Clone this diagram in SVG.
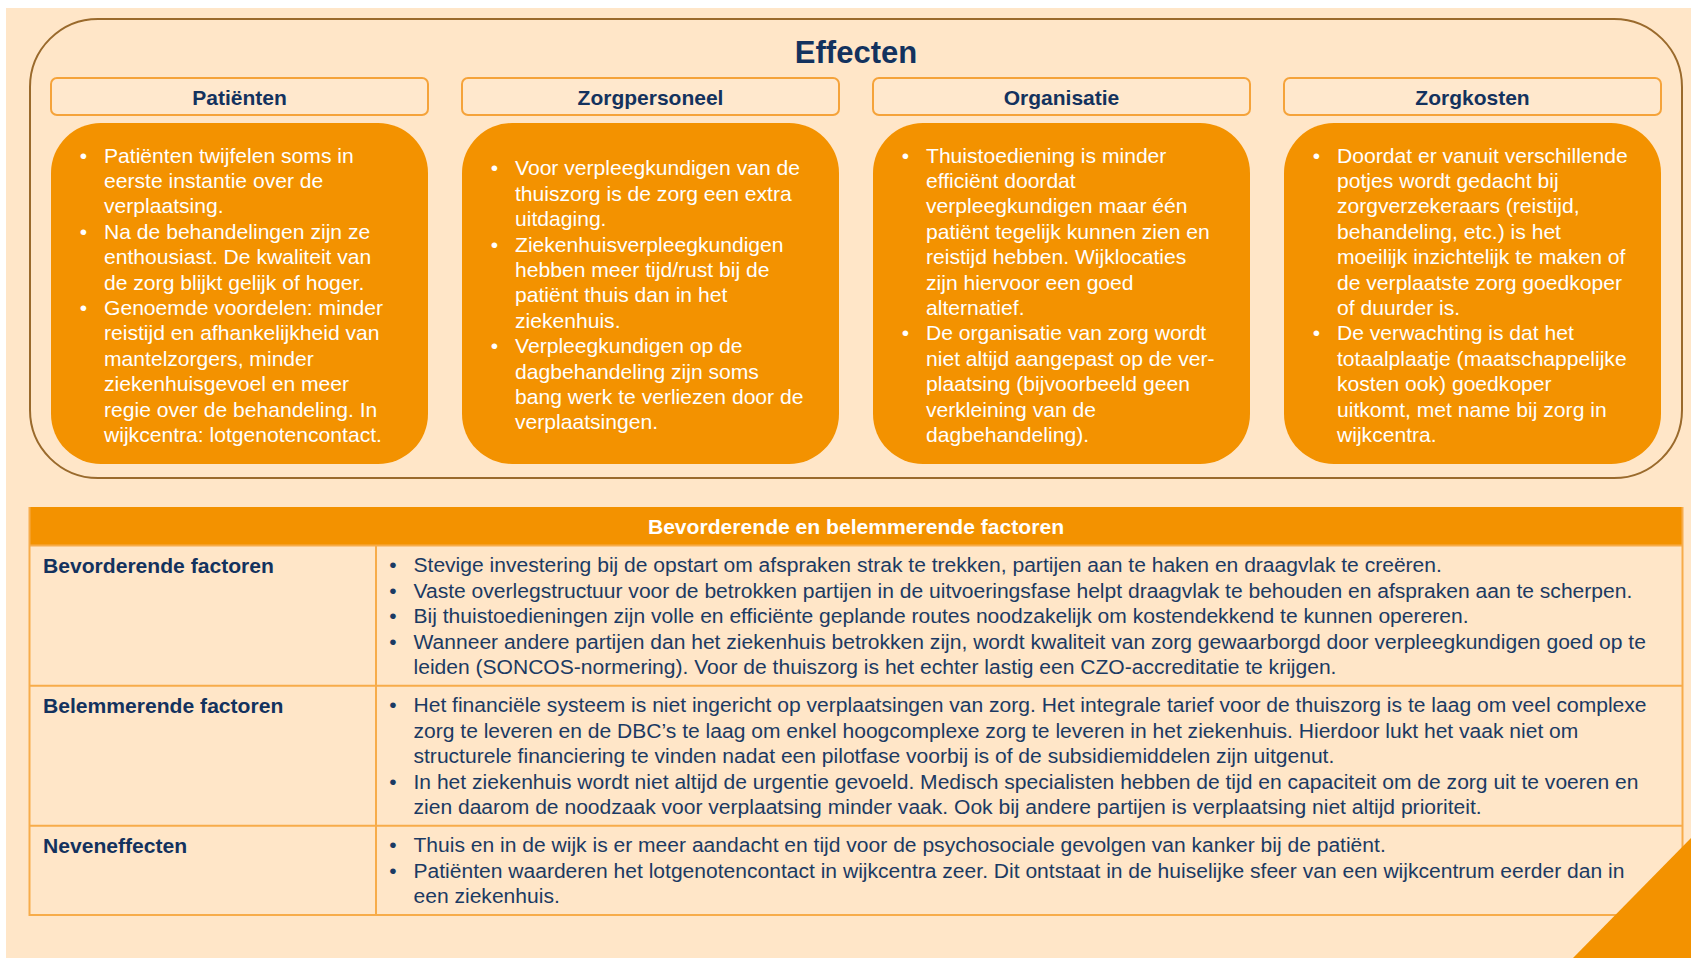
<svg xmlns="http://www.w3.org/2000/svg" width="1691" height="958" viewBox="0 0 1691 958">
<style>
.bg{fill:#FFE6C8}
.outer{fill:none;stroke:#9A6A2C;stroke-width:2}
.hbox{fill:#FFE8CD;stroke:#F5A33A;stroke-width:2}
.obox{fill:#F39200}
.title{font-family:"Liberation Sans",Arial,sans-serif;font-weight:bold;font-size:31px;fill:#13325E;text-anchor:middle}
.htxt{font-family:"Liberation Sans",Arial,sans-serif;font-weight:bold;font-size:21px;fill:#13325E;text-anchor:middle}
.btxt{font-family:"Liberation Sans",Arial,sans-serif;font-size:21.1px;fill:#FFFFFF}
.bul{font-family:"Liberation Sans",Arial,sans-serif;font-size:21px;fill:#FFFFFF;text-anchor:middle}
.grid{fill:none;stroke:#F7AC4A;stroke-width:2}
.thead{fill:#F39200}
.thtxt{font-family:"Liberation Sans",Arial,sans-serif;font-weight:bold;font-size:21.1px;fill:#FFFFFF;text-anchor:middle}
.lbl{font-family:"Liberation Sans",Arial,sans-serif;font-weight:bold;font-size:21.1px;fill:#13325E}
.ttxt{font-family:"Liberation Sans",Arial,sans-serif;font-size:21.05px;fill:#1B3A63}
.tbul{font-family:"Liberation Sans",Arial,sans-serif;font-size:21px;fill:#1B3A63;text-anchor:middle}
</style>
<rect x="0" y="0" width="1691" height="958" fill="#FFFFFF"/>
<rect class="bg" x="6" y="8" width="1685" height="950"/>

<g id="effecten">
<rect class="outer" x="30" y="19" width="1652" height="459" rx="68" ry="68"/>
<text class="title" x="856" y="62.5">Effecten</text>
</g>

<g id="patienten">
<rect class="hbox" x="51" y="78" width="377" height="37" rx="6"/>
<text class="htxt" x="239.5" y="104.5">Patiënten</text>
<rect class="obox" x="51" y="123" width="377" height="341" rx="50"/>
<text class="bul"><tspan x="83.5" y="162.5">•</tspan><tspan x="83.5" y="238.7">•</tspan><tspan x="83.5" y="314.9">•</tspan></text>
<text class="btxt">
<tspan x="104" y="162.5">Patiënten twijfelen soms in</tspan>
<tspan x="104" y="187.9">eerste instantie over de</tspan>
<tspan x="104" y="213.3">verplaatsing.</tspan>
<tspan x="104" y="238.7">Na de behandelingen zijn ze</tspan>
<tspan x="104" y="264.1">enthousiast. De kwaliteit van</tspan>
<tspan x="104" y="289.5">de zorg blijkt gelijk of hoger.</tspan>
<tspan x="104" y="314.9">Genoemde voordelen: minder</tspan>
<tspan x="104" y="340.3">reistijd en afhankelijkheid van</tspan>
<tspan x="104" y="365.7">mantelzorgers, minder</tspan>
<tspan x="104" y="391.1">ziekenhuisgevoel en meer</tspan>
<tspan x="104" y="416.5">regie over de behandeling. In</tspan>
<tspan x="104" y="441.9">wijkcentra: lotgenotencontact.</tspan>
</text>
</g>

<g id="zorgpersoneel">
<rect class="hbox" x="462" y="78" width="377" height="37" rx="6"/>
<text class="htxt" x="650.5" y="104.5">Zorgpersoneel</text>
<rect class="obox" x="462" y="123" width="377" height="341" rx="50"/>
<text class="bul"><tspan x="494.5" y="175.3">•</tspan><tspan x="494.5" y="251.5">•</tspan><tspan x="494.5" y="353.1">•</tspan></text>
<text class="btxt">
<tspan x="515" y="175.3">Voor verpleegkundigen van de</tspan>
<tspan x="515" y="200.7">thuiszorg is de zorg een extra</tspan>
<tspan x="515" y="226.1">uitdaging.</tspan>
<tspan x="515" y="251.5">Ziekenhuisverpleegkundigen</tspan>
<tspan x="515" y="276.9">hebben meer tijd/rust bij de</tspan>
<tspan x="515" y="302.3">patiënt thuis dan in het</tspan>
<tspan x="515" y="327.7">ziekenhuis.</tspan>
<tspan x="515" y="353.1">Verpleegkundigen op de</tspan>
<tspan x="515" y="378.5">dagbehandeling zijn soms</tspan>
<tspan x="515" y="403.9">bang werk te verliezen door de</tspan>
<tspan x="515" y="429.3">verplaatsingen.</tspan>
</text>
</g>

<g id="organisatie">
<rect class="hbox" x="873" y="78" width="377" height="37" rx="6"/>
<text class="htxt" x="1061.5" y="104.5">Organisatie</text>
<rect class="obox" x="873" y="123" width="377" height="341" rx="50"/>
<text class="bul"><tspan x="905.5" y="162.5">•</tspan><tspan x="905.5" y="340.3">•</tspan></text>
<text class="btxt">
<tspan x="926" y="162.5">Thuistoediening is minder</tspan>
<tspan x="926" y="187.9">efficiënt doordat</tspan>
<tspan x="926" y="213.3">verpleegkundigen maar één</tspan>
<tspan x="926" y="238.7">patiënt tegelijk kunnen zien en</tspan>
<tspan x="926" y="264.1">reistijd hebben. Wijklocaties</tspan>
<tspan x="926" y="289.5">zijn hiervoor een goed</tspan>
<tspan x="926" y="314.9">alternatief.</tspan>
<tspan x="926" y="340.3">De organisatie van zorg wordt</tspan>
<tspan x="926" y="365.7">niet altijd aangepast op de ver-</tspan>
<tspan x="926" y="391.1">plaatsing (bijvoorbeeld geen</tspan>
<tspan x="926" y="416.5">verkleining van de</tspan>
<tspan x="926" y="441.9">dagbehandeling).</tspan>
</text>
</g>

<g id="zorgkosten">
<rect class="hbox" x="1284" y="78" width="377" height="37" rx="6"/>
<text class="htxt" x="1472.5" y="104.5">Zorgkosten</text>
<rect class="obox" x="1284" y="123" width="377" height="341" rx="50"/>
<text class="bul"><tspan x="1316.5" y="162.5">•</tspan><tspan x="1316.5" y="340.3">•</tspan></text>
<text class="btxt">
<tspan x="1337" y="162.5">Doordat er vanuit verschillende</tspan>
<tspan x="1337" y="187.9">potjes wordt gedacht bij</tspan>
<tspan x="1337" y="213.3">zorgverzekeraars (reistijd,</tspan>
<tspan x="1337" y="238.7">behandeling, etc.) is het</tspan>
<tspan x="1337" y="264.1">moeilijk inzichtelijk te maken of</tspan>
<tspan x="1337" y="289.5">de verplaatste zorg goedkoper</tspan>
<tspan x="1337" y="314.9">of duurder is.</tspan>
<tspan x="1337" y="340.3">De verwachting is dat het</tspan>
<tspan x="1337" y="365.7">totaalplaatje (maatschappelijke</tspan>
<tspan x="1337" y="391.1">kosten ook) goedkoper</tspan>
<tspan x="1337" y="416.5">uitkomt, met name bij zorg in</tspan>
<tspan x="1337" y="441.9">wijkcentra.</tspan>
</text>
</g>

<g id="factoren-tabel">
<rect class="thead" x="29.5" y="507" width="1653" height="38.5"/>
<text class="thtxt" x="856" y="533.5">Bevorderende en belemmerende factoren</text>
<path class="grid" d="M29.5 507 V915 H1682.5 V507 M29.5 545.5 H1682.5 M29.5 685.7 H1682.5 M29.5 825.8 H1682.5 M376 545.5 V915"/>
</g>

<g id="bevorderende">
<text class="lbl" x="43" y="572.5">Bevorderende factoren</text>
<text class="tbul"><tspan x="393" y="572.3">•</tspan><tspan x="393" y="597.8">•</tspan><tspan x="393" y="623.3">•</tspan><tspan x="393" y="648.8">•</tspan></text>
<text class="ttxt">
<tspan x="413.5" y="572.3">Stevige investering bij de opstart om afspraken strak te trekken, partijen aan te haken en draagvlak te creëren.</tspan>
<tspan x="413.5" y="597.8">Vaste overlegstructuur voor de betrokken partijen in de uitvoeringsfase helpt draagvlak te behouden en afspraken aan te scherpen.</tspan>
<tspan x="413.5" y="623.3">Bij thuistoedieningen zijn volle en efficiënte geplande routes noodzakelijk om kostendekkend te kunnen opereren.</tspan>
<tspan x="413.5" y="648.8">Wanneer andere partijen dan het ziekenhuis betrokken zijn, wordt kwaliteit van zorg gewaarborgd door verpleegkundigen goed op te</tspan>
<tspan x="413.5" y="674.3">leiden (SONCOS-normering). Voor de thuiszorg is het echter lastig een CZO-accreditatie te krijgen.</tspan>
</text>
</g>

<g id="belemmerende">
<text class="lbl" x="43" y="712.5">Belemmerende factoren</text>
<text class="tbul"><tspan x="393" y="712.3">•</tspan><tspan x="393" y="788.8">•</tspan></text>
<text class="ttxt">
<tspan x="413.5" y="712.3">Het financiële systeem is niet ingericht op verplaatsingen van zorg. Het integrale tarief voor de thuiszorg is te laag om veel complexe</tspan>
<tspan x="413.5" y="737.8">zorg te leveren en de DBC’s te laag om enkel hoogcomplexe zorg te leveren in het ziekenhuis. Hierdoor lukt het vaak niet om</tspan>
<tspan x="413.5" y="763.3">structurele financiering te vinden nadat een pilotfase voorbij is of de subsidiemiddelen zijn uitgenut.</tspan>
<tspan x="413.5" y="788.8">In het ziekenhuis wordt niet altijd de urgentie gevoeld. Medisch specialisten hebben de tijd en capaciteit om de zorg uit te voeren en</tspan>
<tspan x="413.5" y="814.3">zien daarom de noodzaak voor verplaatsing minder vaak. Ook bij andere partijen is verplaatsing niet altijd prioriteit.</tspan>
</text>
</g>

<g id="neveneffecten">
<text class="lbl" x="43" y="852.5">Neveneffecten</text>
<text class="tbul"><tspan x="393" y="852.3">•</tspan><tspan x="393" y="877.8">•</tspan></text>
<text class="ttxt">
<tspan x="413.5" y="852.3">Thuis en in de wijk is er meer aandacht en tijd voor de psychosociale gevolgen van kanker bij de patiënt.</tspan>
<tspan x="413.5" y="877.8">Patiënten waarderen het lotgenotencontact in wijkcentra zeer. Dit ontstaat in de huiselijke sfeer van een wijkcentrum eerder dan in</tspan>
<tspan x="413.5" y="903.3">een ziekenhuis.</tspan>
</text>
</g>

<g id="hoek">
<polygon points="1573,958 1691,838 1691,958" fill="#F39200"/>
</g>
</svg>
